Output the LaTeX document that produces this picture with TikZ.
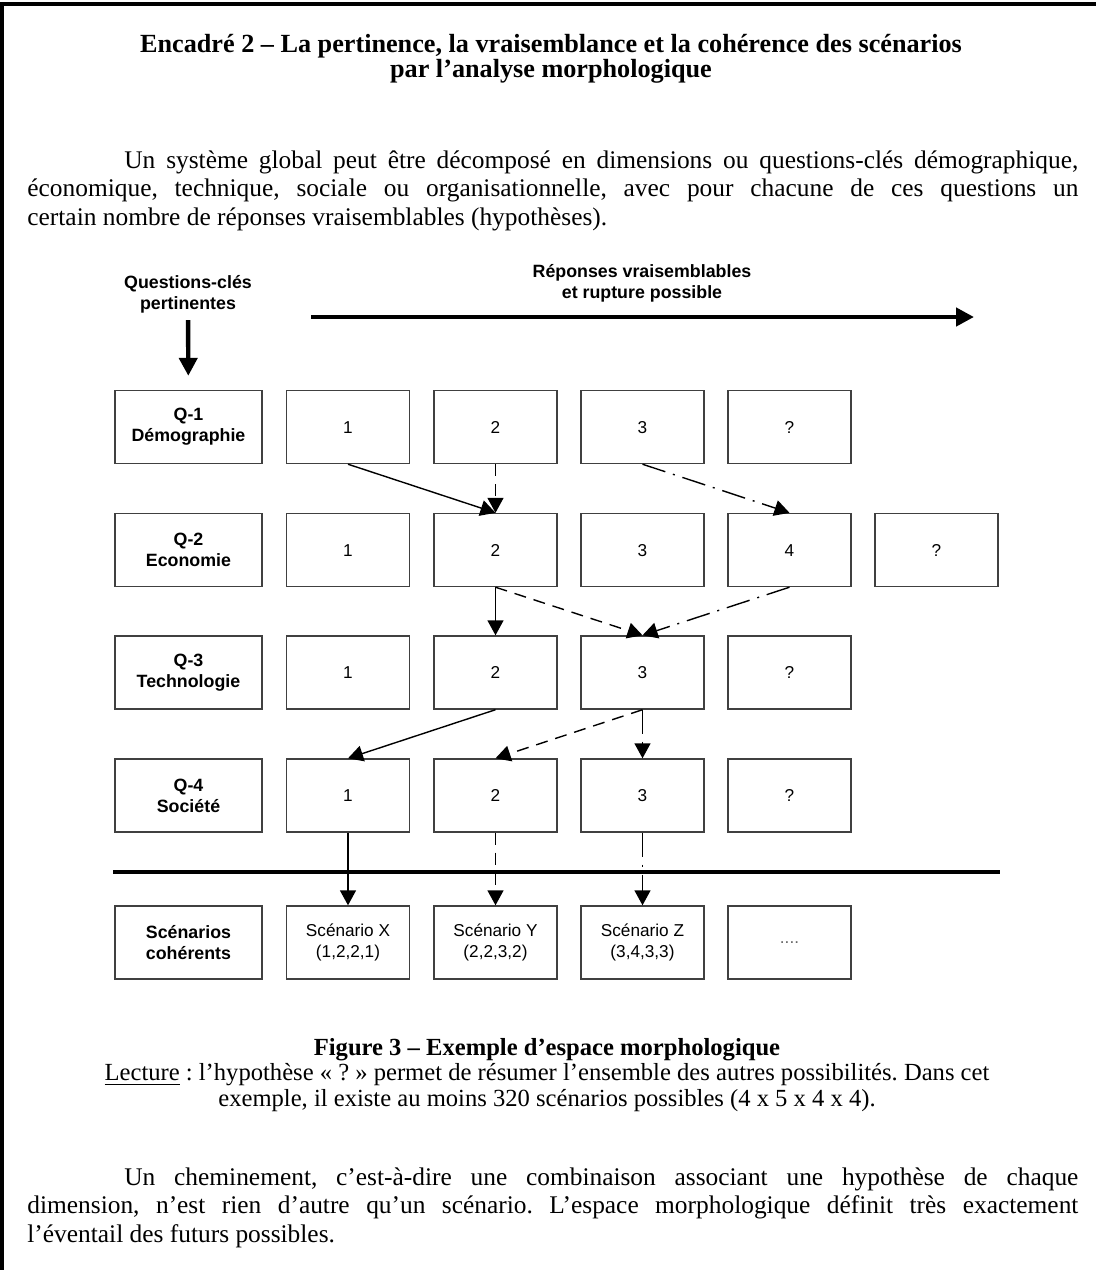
\documentclass[tikz,border=0pt]{standalone}
\usepackage{fontspec}
\setmainfont{Liberation Serif}
\newfontfamily\diagfont{Liberation Sans}
\usetikzlibrary{arrows.meta}
\frenchspacing

\begin{document}
\begin{tikzpicture}[x=0.5pt,y=-0.5pt,
hypbox/.style={draw=black!75,line width=0.7pt,minimum width=61.5pt,minimum height=36.5pt,inner sep=2pt,align=center,font=\diagfont\fontsize{8.6}{10.6}\selectfont},
numbox/.style={hypbox,text height=6.3pt,text depth=0pt},
qbox/.style={hypbox,minimum width=73.5pt,font=\diagfont\bfseries\fontsize{8.9}{10.6}\selectfont},
link/.style={line width=0.7pt,-{Triangle[length=7.5pt,width=8pt]}},
dashlink/.style={link,dash pattern=on 6pt off 4pt},
dotlink/.style={link,dash pattern=on 12pt off 4pt on 1pt off 4pt},
bigarrow/.style={line width=2.2pt,-{Triangle[length=9pt,width=9pt]}},
bodytext/.style={text width=525.5pt,align=justify,inner sep=0pt,anchor=north west,font=\fontsize{12.7}{14.4}\selectfont}]

\useasboundingbox (0,0) rectangle (1096,1270);
\draw[line width=1.6pt] (2,1270) -- (2,4) -- (1096,4);

% titre
\node[align=center,font=\bfseries\fontsize{13.1}{12.6}\selectfont] (titre) at (551,59)
  {Encadré 2 – La pertinence, la vraisemblance et la cohérence des scénarios\\par l’analyse morphologique};
\node[bodytext] (intro) at (27,150)
  {\hspace*{48.5pt}Un système global peut être décomposé en dimensions ou questions-clés démographique,\linebreak
   économique, technique, sociale ou organisationnelle, avec pour chacune de ces questions un\linebreak
   certain nombre de réponses vraisemblables (hypothèses).};

% en-tetes
\node[align=center,font=\diagfont\bfseries\fontsize{8.9}{10.6}\selectfont] (qlab) at (188,294) {Questions-clés\\pertinentes};
\node[align=center,font=\diagfont\bfseries\fontsize{8.9}{10.6}\selectfont] (rlab) at (642,283) {Réponses vraisemblables\\et rupture possible};
\coordinate (rA) at (311,317);
\coordinate (rB) at (974,317);
\draw[bigarrow] (rA) -- (rB);

% Q-1
\node[qbox] (Q1) at (188.5,427) {Q-1\\Démographie};
\node[numbox] (a1) at (348,427) {1};
\node[numbox] (a2) at (495.5,427) {2};
\node[numbox] (a3) at (642.5,427) {3};
\node[numbox] (a4) at (789.5,427) {?};
% Q-2
\node[qbox] (Q2) at (188.5,550) {Q-2\\Economie};
\node[numbox] (b1) at (348,550) {1};
\node[numbox] (b2) at (495.5,550) {2};
\node[numbox] (b3) at (642.5,550) {3};
\node[numbox] (b4) at (789.5,550) {4};
\node[numbox] (b5) at (936.5,550) {?};
% Q-3
\node[qbox] (Q3) at (188.5,672.5) {Q-3\\Technologie};
\node[numbox] (c1) at (348,672.5) {1};
\node[numbox] (c2) at (495.5,672.5) {2};
\node[numbox] (c3) at (642.5,672.5) {3};
\node[numbox] (c4) at (789.5,672.5) {?};
% Q-4
\node[qbox] (Q4) at (188.5,795.5) {Q-4\\Société};
\node[numbox] (d1) at (348,795.5) {1};
\node[numbox] (d2) at (495.5,795.5) {2};
\node[numbox] (d3) at (642.5,795.5) {3};
\node[numbox] (d4) at (789.5,795.5) {?};
% scenarios
\node[qbox] (S0) at (188.5,942.5) {Scénarios\\cohérents};
\node[hypbox] (sX) at (348,942.5) {Scénario X\\(1,2,2,1)};
\node[hypbox] (sY) at (495.5,942.5) {Scénario Y\\(2,2,3,2)};
\node[hypbox] (sZ) at (642.5,942.5) {Scénario Z\\(3,4,3,3)};
\node[hypbox,text=black!60] (sW) at (789.5,942.5) {....};

\draw[bigarrow,shorten >=7pt] (qlab) -- (Q1);
\coordinate (sepA) at (113,872);
\coordinate (sepB) at (1000,872);
\draw[line width=2.4pt] (sepA) -- (sepB);

% cheminements
\draw[link] (a1.south) -- (b2.north);
\draw[dashlink] (a2.south) -- (b2.north);
\draw[dotlink] (a3.south) -- (b4.north);
\draw[link] (b2.south) -- (c2.north);
\draw[dashlink] (b2.south) -- (c3.north);
\draw[dotlink] (b4.south) -- (c3.north);
\draw[link] (c2.south) -- (d1.north);
\draw[dashlink] (c3.south) -- (d2.north);
\draw[dotlink] (c3.south) -- (d3.north);
\draw[link] (d1.south) -- (sX.north);
\draw[dashlink] (d2.south) -- (sY.north);
\draw[dotlink] (d3.south) -- (sZ.north);

% legende
\node[align=center,font=\fontsize{12.3}{12.8}\selectfont] (legende) at (547,1075)
  {\textbf{Figure 3 – Exemple d’espace morphologique}\\
   \underline{Lecture} : l’hypothèse « ? » permet de résumer l’ensemble des autres possibilités. Dans cet\\
   exemple, il existe au moins 320 scénarios possibles (4 x 5 x 4 x 4).};
\node[bodytext] (fin) at (27,1167)
  {\hspace*{48.5pt}Un cheminement, c’est-à-dire une combinaison associant une hypothèse de chaque\linebreak
   dimension, n’est rien d’autre qu’un scénario. L’espace morphologique définit très exactement\linebreak
   l’éventail des futurs possibles.};
\end{tikzpicture}
\end{document}
